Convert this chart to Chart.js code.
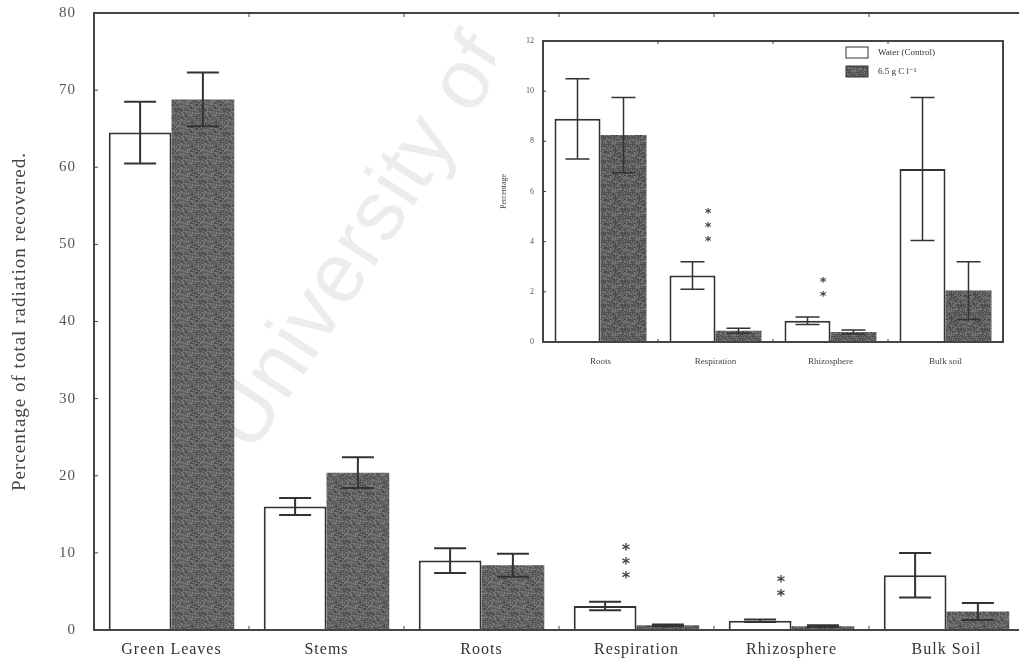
<!DOCTYPE html>
<html>
<head>
<meta charset="utf-8">
<script src="https://cdn.jsdelivr.net/npm/chart.js@4.4.1/dist/chart.umd.min.js"></script>
<style>
html, body { margin: 0; padding: 0; background: #fff; overflow: hidden; }
#wrap { position: relative; width: 1019px; height: 662px; overflow: hidden; }
#mainBox { position: absolute; left: 0; top: 0; width: 1030px; height: 662px; }
#insetBox { position: absolute; left: 495px; top: 28px; width: 520px; height: 340px; background: #fff; }
</style>
</head>
<body>
<div id="wrap">
  <div id="mainBox"><canvas id="mainChart"></canvas></div>
  <div id="insetBox"><canvas id="insetChart"></canvas></div>
</div>
<script>
// Main chart data
const categories = ['Green Leaves', 'Stems', 'Roots', 'Respiration', 'Rhizosphere', 'Bulk Soil'];
const controlValues = [64.5, 16.0, 9.0, 3.1, 1.2, 7.1];
const controlErrors = [4.0, 1.1, 1.6, 0.55, 0.15, 2.9];
const treatedValues = [68.8, 20.4, 8.4, 0.6, 0.5, 2.4];
const treatedErrors = [3.5, 2.0, 1.5, 0.1, 0.1, 1.1];
const significance = ['', '', '', '***', '**', ''];

// Inset chart data
const insetCategories = ['Roots', 'Respiration', 'Rhizosphere', 'Bulk soil'];
const insetControl = [8.9, 2.65, 0.85, 6.9];
const insetControlErr = [1.6, 0.55, 0.15, 2.85];
const insetTreated = [8.25, 0.45, 0.4, 2.05];
const insetTreatedErr = [1.5, 0.1, 0.08, 1.15];
const insetSignificance = ['', '***', '**', ''];

const seriesNames = ['Water (Control)', '6.5 g C l\u207B\u00B9'];

const SERIF = '"Liberation Serif", "DejaVu Serif", serif';

// grainy grey fill like the scanned bars
function greyPattern(base) {
    const c = document.createElement('canvas');
    c.width = 24; c.height = 24;
    const g = c.getContext('2d');
    for (let yy = 0; yy < 24; yy++) {
        for (let xx = 0; xx < 24; xx++) {
            const h = Math.sin(xx * 12.9898 + yy * 78.233) * 43758.5453;
            const n = h - Math.floor(h);
            const v = Math.round(base + (n - 0.5) * 60);
            g.fillStyle = 'rgb(' + v + ',' + v + ',' + v + ')';
            g.fillRect(xx, yy, 1, 1);
        }
    }
    return g.createPattern(c, 'repeat');
}

// the scanned lettering is wide, so space the main chart's text out a bit
const spacingPlugin = {
    id: 'spacing',
    beforeDraw(chart, args, opts) {
        if (opts.px) chart.ctx.letterSpacing = opts.px + 'px';
    },
    afterDraw(chart) {
        chart.ctx.letterSpacing = '0px';
    }
};

// Error bars, drawn from each dataset's "errors" array
const errorBarsPlugin = {
    id: 'errorBars',
    afterDatasetsDraw(chart, args, opts) {
        const ctx = chart.ctx;
        const y = chart.scales.y;
        ctx.save();
        ctx.strokeStyle = '#333';
        ctx.lineWidth = opts.lineWidth || 1.5;
        chart.data.datasets.forEach((ds, di) => {
            chart.getDatasetMeta(di).data.forEach((bar, i) => {
                const v = ds.data[i], e = ds.errors[i];
                const top = y.getPixelForValue(v + e);
                const bot = y.getPixelForValue(v - e);
                const half = opts.cap / 2;
                ctx.beginPath();
                ctx.moveTo(bar.x, top); ctx.lineTo(bar.x, bot);
                ctx.moveTo(bar.x - half, top); ctx.lineTo(bar.x + half, top);
                ctx.moveTo(bar.x - half, bot); ctx.lineTo(bar.x + half, bot);
                ctx.stroke();
            });
        });
        ctx.restore();
    }
};

// Significance stars stacked vertically above the control bar
const starsPlugin = {
    id: 'stars',
    afterDatasetsDraw(chart, args, opts) {
        const ctx = chart.ctx;
        const x = chart.scales.x, y = chart.scales.y;
        const ds = chart.data.datasets[0];
        const catW = (chart.chartArea.right - chart.chartArea.left) / chart.data.labels.length;
        ctx.save();
        ctx.fillStyle = '#444';
        ctx.font = 'bold ' + opts.size + 'px "DejaVu Sans", sans-serif';
        ctx.textAlign = 'center';
        ctx.textBaseline = 'middle';
        opts.marks.forEach((m, i) => {
            if (!m) return;
            const cx = x.getPixelForValue(i) - catW * 0.065;
            let cy = y.getPixelForValue(ds.data[i] + ds.errors[i]) - opts.gap;
            for (let k = 0; k < m.length; k++) {
                ctx.fillText('*', cx, cy + opts.size * 0.3);
                cy -= opts.step;
            }
        });
        ctx.restore();
    }
};

// Box frame with inward ticks
const framePlugin = {
    id: 'frame',
    afterDraw(chart, args, opts) {
        const ctx = chart.ctx;
        const a = chart.chartArea;
        const n = chart.data.labels.length;
        const catW = (a.right - a.left) / n;
        ctx.save();
        ctx.strokeStyle = '#444';
        ctx.lineWidth = opts.lineWidth;
        ctx.strokeRect(a.left, a.top, a.right - a.left, a.bottom - a.top);
        ctx.lineWidth = 1;
        ctx.beginPath();
        chart.scales.y.ticks.forEach(t => {
            const py = chart.scales.y.getPixelForValue(t.value);
            ctx.moveTo(a.left, py); ctx.lineTo(a.left + opts.tick, py);
        });
        for (let i = 1; i < n; i++) {
            const px = a.left + catW * i;
            ctx.moveTo(px, a.top); ctx.lineTo(px, a.top + opts.tick);
            ctx.moveTo(px, a.bottom); ctx.lineTo(px, a.bottom - opts.tick);
        }
        ctx.stroke();
        ctx.restore();
    }
};

// Faint diagonal watermark behind the bars (only the part left of the inset shows)
const watermarkPlugin = {
    id: 'watermark',
    beforeDatasetsDraw(chart, args, opts) {
        if (!opts.text) return;
        const ctx = chart.ctx;
        const a = chart.chartArea;
        ctx.save();
        ctx.beginPath();
        ctx.rect(a.left, a.top, opts.clipRight - a.left, a.bottom - a.top);
        ctx.clip();
        ctx.translate(opts.x, opts.y);
        ctx.rotate(opts.angle);
        ctx.fillStyle = 'rgba(170,170,170,0.22)';
        ctx.font = opts.size + 'px "Liberation Sans", sans-serif';
        ctx.textBaseline = 'alphabetic';
        ctx.fillText(opts.text, 0, 0);
        ctx.restore();
    }
};

// Small legend inside the inset
const boxLegendPlugin = {
    id: 'boxLegend',
    afterDraw(chart, args, opts) {
        if (!opts.show) return;
        const ctx = chart.ctx;
        ctx.save();
        ctx.font = '9px ' + SERIF;
        ctx.textBaseline = 'middle';
        chart.data.datasets.forEach((ds, i) => {
            const bx = opts.x, by = opts.y + i * 19;
            ctx.fillStyle = ds.backgroundColor;
            ctx.fillRect(bx, by, 22, 11);
            ctx.strokeStyle = '#333';
            ctx.lineWidth = 1;
            ctx.strokeRect(bx, by, 22, 11);
            ctx.fillStyle = '#333';
            ctx.fillText(ds.label, bx + 32, by + 6);
        });
        ctx.restore();
    }
};

Chart.register(spacingPlugin, errorBarsPlugin, starsPlugin, framePlugin, watermarkPlugin, boxLegendPlugin);

// keep the plot box exactly where the layout padding puts it
function fixWidth(w) {
    return s => { s.width = w; s.paddingTop = 0; s.paddingBottom = 0; };
}

const mainCtx = document.getElementById('mainChart').getContext('2d');
const mainChart = new Chart(mainCtx, {
    type: 'bar',
    data: {
        labels: categories,
        datasets: [{
            label: seriesNames[0],
            data: controlValues,
            errors: controlErrors,
            backgroundColor: '#ffffff',
            borderColor: '#333',
            borderWidth: 2,
            borderSkipped: 'bottom'
        }, {
            label: seriesNames[1],
            data: treatedValues,
            errors: treatedErrors,
            backgroundColor: greyPattern(100),
            borderWidth: 0
        }]
    },
    options: {
        responsive: true,
        maintainAspectRatio: false,
        animation: false,
        layout: { padding: { top: 13, right: 6, left: 0, bottom: 0 } },
        categoryPercentage: 0.81,
        barPercentage: 1.0,
        scales: {
            x: {
                grid: { display: false },
                border: { display: false },
                ticks: { color: '#333', font: { family: SERIF, size: 16 }, padding: 2 },
                afterFit: s => { s.height = 32; }
            },
            y: {
                min: 0,
                max: 80,
                grid: { display: false, drawTicks: false },
                border: { display: false },
                ticks: { stepSize: 10, color: '#555', font: { family: SERIF, size: 15 }, padding: 18 },
                title: {
                    display: true,
                    text: 'Percentage of total radiation recovered.',
                    color: '#444',
                    font: { family: SERIF, size: 19 },
                    padding: { top: 9, bottom: 0 }
                },
                afterFit: fixWidth(94)
            }
        },
        plugins: {
            legend: { display: false },
            tooltip: { enabled: false },
            spacing: { px: 1 },
            errorBars: { cap: 32, lineWidth: 2 },
            stars: { marks: significance, size: 16, gap: 28, step: 14 },
            frame: { lineWidth: 2, tick: 4 },
            watermark: { text: 'University of Cape Town', x: 252, y: 455, angle: -57 * Math.PI / 180, size: 84, clipRight: 496 },
            boxLegend: { show: false }
        }
    }
});

const insetCtx = document.getElementById('insetChart').getContext('2d');
const insetChart = new Chart(insetCtx, {
    type: 'bar',
    data: {
        labels: insetCategories,
        datasets: [{
            label: seriesNames[0],
            data: insetControl,
            errors: insetControlErr,
            backgroundColor: '#ffffff',
            borderColor: '#333',
            borderWidth: 2,
            borderSkipped: 'bottom'
        }, {
            label: seriesNames[1],
            data: insetTreated,
            errors: insetTreatedErr,
            backgroundColor: greyPattern(95),
            borderWidth: 0
        }]
    },
    options: {
        responsive: true,
        maintainAspectRatio: false,
        animation: false,
        layout: { padding: { top: 13, right: 12, left: 0, bottom: 0 } },
        categoryPercentage: 0.8,
        barPercentage: 1.0,
        scales: {
            x: {
                grid: { display: false },
                border: { display: false },
                ticks: { color: '#444', font: { family: SERIF, size: 9 }, padding: 6 },
                afterFit: s => { s.height = 26; }
            },
            y: {
                min: 0,
                max: 12,
                grid: { display: false, drawTicks: false },
                border: { display: false },
                ticks: { stepSize: 2, color: '#555', font: { family: SERIF, size: 8 }, padding: 9 },
                title: {
                    display: true,
                    text: 'Percentage',
                    color: '#444',
                    font: { family: SERIF, size: 8 },
                    padding: { top: 4, bottom: 0 }
                },
                afterFit: fixWidth(48)
            }
        },
        plugins: {
            legend: { display: false },
            tooltip: { enabled: false },
            spacing: { px: 0 },
            errorBars: { cap: 24, lineWidth: 1.5 },
            stars: { marks: insetSignificance, size: 13, gap: 24, step: 14 },
            frame: { lineWidth: 2, tick: 3 },
            watermark: { text: '' },
            boxLegend: { show: true, x: 351, y: 19 }
        }
    }
});
</script>
</body>
</html>
